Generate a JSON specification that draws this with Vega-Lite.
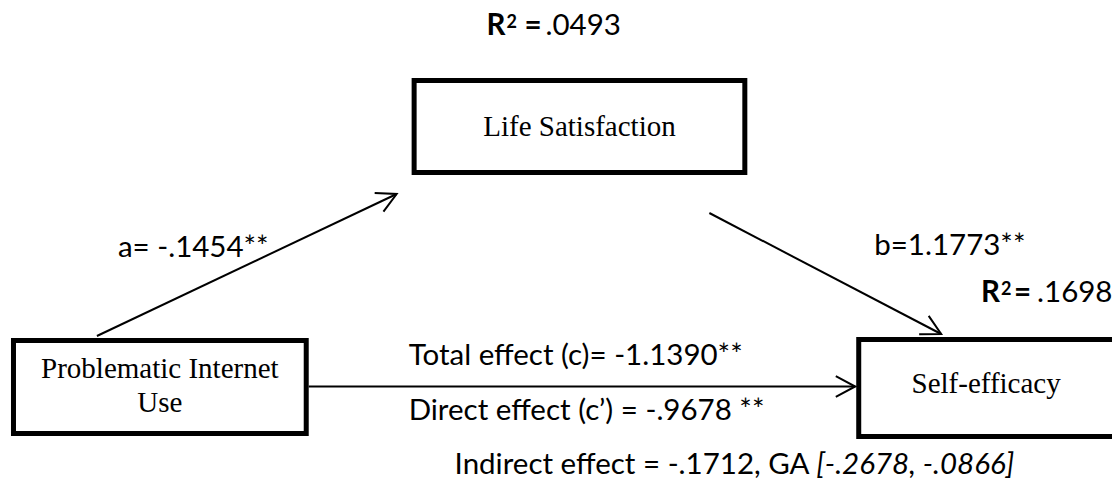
{
  "$schema": "https://vega.github.io/schema/vega-lite/v6.json",
  "autosize": {"type": "fit", "contains": "padding"},
  "width": 1113,
  "height": 481,
  "padding": 0,
  "background": "white",
  "config": {"view": {"stroke": null}},
  "datasets": {
    "boxes": [
      {"node": "Life Satisfaction", "left": 414.5, "right": 745.5, "top": 80.5, "bottom": 172.5},
      {"node": "Problematic Internet Use", "left": 13.5, "right": 306.5, "top": 340.5, "bottom": 433.5},
      {"node": "Self-efficacy", "left": 859.5, "right": 1125, "top": 339.5, "bottom": 436.5}
    ],
    "arrows": [
      {"path": "a", "x1": 97, "y1": 336, "x2": 397, "y2": 194, "angle": -25.2},
      {"path": "b", "x1": 710, "y1": 213, "x2": 942, "y2": 334, "angle": 27.5},
      {"path": "c", "x1": 309, "y1": 386.5, "x2": 856, "y2": 386.5, "angle": 0}
    ],
    "labels": [
      {"text": "Life Satisfaction", "x": 580, "y": 136, "kind": "node"},
      {"text": "Problematic Internet", "x": 160, "y": 378, "kind": "node"},
      {"text": "Use", "x": 160, "y": 412, "kind": "node"},
      {"text": "Self-efficacy", "x": 987, "y": 393, "kind": "node"},
      {"text": "a= -.1454**", "x": 118, "y": 257, "kind": "sans"},
      {"text": "b=1.1773**", "x": 875, "y": 255, "kind": "sans"},
      {"text": "Total effect (c)= -1.1390**", "x": 409, "y": 365, "kind": "sans"},
      {"text": "Direct effect (c’) = -.9678 **", "x": 409, "y": 420, "kind": "sans"},
      {"text": "Indirect effect = -.1712, GA", "x": 455, "y": 474, "kind": "sans"},
      {"text": ".0493", "x": 546, "y": 35, "kind": "sans"},
      {"text": ".1698", "x": 1038, "y": 302, "kind": "sans"},
      {"text": "R", "x": 487, "y": 35, "kind": "bold"},
      {"text": "=", "x": 525, "y": 35, "kind": "bold"},
      {"text": "2", "x": 507, "y": 28, "kind": "sup"},
      {"text": "R", "x": 982, "y": 302, "kind": "bold"},
      {"text": "=", "x": 1015, "y": 302, "kind": "bold"},
      {"text": "2", "x": 1002, "y": 295, "kind": "sup"},
      {"text": "[-.2678, -.0866]", "x": 817, "y": 474, "kind": "italic"}
    ]
  },
  "layer": [
    {
      "data": {"name": "boxes"},
      "mark": {"type": "rect", "fill": "white", "stroke": "black", "strokeWidth": 5, "clip": true},
      "encoding": {
        "x": {"field": "left", "type": "quantitative", "scale": {"domain": [0, 1113], "nice": false, "zero": false}, "axis": null},
        "x2": {"field": "right"},
        "y": {"field": "top", "type": "quantitative", "scale": {"domain": [0, 481], "nice": false, "zero": false, "reverse": true}, "axis": null},
        "y2": {"field": "bottom"}
      }
    },
    {
      "data": {"name": "arrows"},
      "mark": {"type": "rule", "color": "black", "strokeWidth": 2},
      "encoding": {
        "x": {"field": "x1", "type": "quantitative"},
        "x2": {"field": "x2"},
        "y": {"field": "y1", "type": "quantitative"},
        "y2": {"field": "y2"}
      }
    },
    {
      "data": {"name": "arrows"},
      "mark": {"type": "point", "shape": "M -0.883 -0.469 L 0 0 L -0.883 0.469", "filled": false, "stroke": "black", "strokeWidth": 2, "size": 1936, "opacity": 1},
      "encoding": {
        "x": {"field": "x2", "type": "quantitative"},
        "y": {"field": "y2", "type": "quantitative"},
        "angle": {"field": "angle", "type": "quantitative", "scale": null}
      }
    },
    {
      "data": {"name": "labels"},
      "transform": [{"filter": "datum.kind === 'node'"}],
      "mark": {"type": "text", "font": "Liberation Serif", "fontSize": 29, "align": "center", "baseline": "alphabetic", "color": "black"},
      "encoding": {
        "x": {"field": "x", "type": "quantitative"},
        "y": {"field": "y", "type": "quantitative"},
        "text": {"field": "text"}
      }
    },
    {
      "data": {"name": "labels"},
      "transform": [{"filter": "datum.kind === 'sans'"}],
      "mark": {"type": "text", "font": "Lato", "fontSize": 29.5, "align": "left", "baseline": "alphabetic", "color": "black"},
      "encoding": {
        "x": {"field": "x", "type": "quantitative"},
        "y": {"field": "y", "type": "quantitative"},
        "text": {"field": "text"}
      }
    },
    {
      "data": {"name": "labels"},
      "transform": [{"filter": "datum.kind === 'bold'"}],
      "mark": {"type": "text", "font": "Lato", "fontWeight": "bold", "fontSize": 29.5, "align": "left", "baseline": "alphabetic", "color": "black"},
      "encoding": {
        "x": {"field": "x", "type": "quantitative"},
        "y": {"field": "y", "type": "quantitative"},
        "text": {"field": "text"}
      }
    },
    {
      "data": {"name": "labels"},
      "transform": [{"filter": "datum.kind === 'sup'"}],
      "mark": {"type": "text", "font": "Lato", "fontWeight": "bold", "fontSize": 18, "align": "left", "baseline": "alphabetic", "color": "black"},
      "encoding": {
        "x": {"field": "x", "type": "quantitative"},
        "y": {"field": "y", "type": "quantitative"},
        "text": {"field": "text"}
      }
    },
    {
      "data": {"name": "labels"},
      "transform": [{"filter": "datum.kind === 'italic'"}],
      "mark": {"type": "text", "font": "Lato", "fontStyle": "italic", "fontSize": 29.5, "align": "left", "baseline": "alphabetic", "color": "black"},
      "encoding": {
        "x": {"field": "x", "type": "quantitative"},
        "y": {"field": "y", "type": "quantitative"},
        "text": {"field": "text"}
      }
    }
  ]
}
